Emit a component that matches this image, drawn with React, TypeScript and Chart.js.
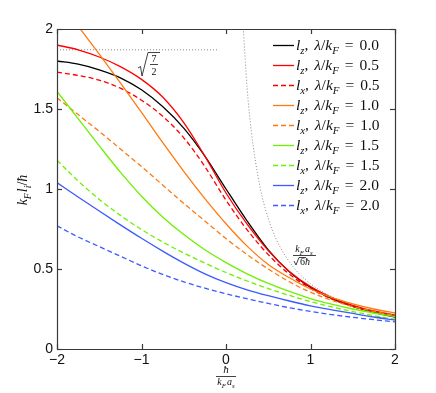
import React, { useEffect, useRef } from 'react';
import { Chart, registerables } from 'chart.js';
Chart.register(...registerables);

// x = hbar / (k_F a_s)
const X = [-2, -1.75, -1.5, -1.25, -1, -0.75, -0.5, -0.25, 0, 0.25, 0.5, 0.75, 1, 1.25, 1.5, 1.75, 2];
const lz00 = [1.80, 1.78, 1.745, 1.695, 1.62, 1.515, 1.38, 1.205, 1.00, 0.80, 0.62, 0.482, 0.385, 0.316, 0.266, 0.229, 0.20];
const lz05 = [1.90, 1.87, 1.825, 1.765, 1.685, 1.575, 1.415, 1.205, 0.975, 0.78, 0.615, 0.485, 0.39, 0.322, 0.273, 0.238, 0.212];
const lx05 = [1.73, 1.71, 1.68, 1.63, 1.555, 1.455, 1.32, 1.14, 0.93, 0.745, 0.59, 0.468, 0.378, 0.313, 0.266, 0.232, 0.207];
const lz10 = [2.19, 2.018, 1.843, 1.663, 1.479, 1.291, 1.11, 0.94, 0.783, 0.643, 0.528, 0.445, 0.375, 0.322, 0.282, 0.25, 0.225];
const lx10 = [1.57, 1.465, 1.36, 1.25, 1.14, 1.025, 0.91, 0.80, 0.69, 0.59, 0.50, 0.42, 0.355, 0.305, 0.265, 0.235, 0.21];
const lz15 = [1.61, 1.44, 1.27, 1.105, 0.955, 0.825, 0.715, 0.62, 0.54, 0.47, 0.41, 0.36, 0.315, 0.28, 0.25, 0.225, 0.203];
const lx15 = [1.18, 1.05, 0.935, 0.835, 0.747, 0.669, 0.60, 0.537, 0.478, 0.425, 0.378, 0.335, 0.296, 0.263, 0.234, 0.208, 0.186];
const lz20 = [1.04, 0.95, 0.862, 0.776, 0.692, 0.612, 0.537, 0.47, 0.415, 0.37, 0.333, 0.3, 0.27, 0.245, 0.222, 0.2, 0.181];
const lx20 = [0.77, 0.70, 0.64, 0.58, 0.52, 0.466, 0.42, 0.38, 0.345, 0.314, 0.285, 0.258, 0.235, 0.215, 0.198, 0.183, 0.17];

// reference lines
const plateauX = [-2, -0.1];
const plateauY = [1.87, 1.87]; // sqrt(7/2)
const asymX = [0.2, 0.25, 0.3, 0.4, 0.5, 0.6, 0.8, 1, 1.25, 1.5, 1.75, 2];
const asymY = [2.04, 1.63, 1.36, 1.02, 0.816, 0.68, 0.51, 0.408, 0.327, 0.272, 0.233, 0.204];

const xTicks = [-2, -1, 0, 1, 2];
const yTicks = [0, 0.5, 1, 1.5, 2];

const seriesComp = ['z', 'z', 'x', 'z', 'x', 'z', 'x', 'z', 'x'];
const seriesLam = ['0.0', '0.5', '0.5', '1.0', '1.0', '1.5', '1.5', '2.0', '2.0'];
const seriesData = [lz00, lz05, lx05, lz10, lx10, lz15, lx15, lz20, lx20];
const seriesColor = ['#000000', '#ff0000', '#ff0000', '#ff7a10', '#ff7a10', '#6ef000', '#6ef000', '#3c5aff', '#3c5aff'];

const SERIF = '"Liberation Serif", "DejaVu Serif", serif';
const SANS = '"Liberation Sans", Arial, sans-serif';

type Seg = { t: string; it?: boolean; sub?: boolean; sp?: number };

function drawRich(ctx: CanvasRenderingContext2D, segs: Seg[], x: number, y: number, size: number, align: 'left' | 'center' = 'left') {
  let w = 0;
  const parts = segs.map((s) => {
    const fs = s.sub ? size * 0.7 : size;
    const font = `${s.it ? 'italic ' : ''}${fs}px ${SERIF}`;
    ctx.font = font;
    const mw = ctx.measureText(s.t).width;
    w += mw + (s.sp || 0);
    return { s, font, mw, dy: s.sub ? size * 0.25 : 0 };
  });
  let cx = align === 'center' ? x - w / 2 : x;
  ctx.textAlign = 'left';
  ctx.textBaseline = 'alphabetic';
  for (const p of parts) {
    ctx.font = p.font;
    ctx.fillText(p.s.t, cx, y + p.dy);
    cx += p.mw + (p.s.sp || 0);
  }
  return w;
}

function seg(ctx: CanvasRenderingContext2D, x1: number, y1: number, x2: number, y2: number) {
  ctx.beginPath();
  ctx.moveTo(x1, y1);
  ctx.lineTo(x2, y2);
  ctx.stroke();
}

const decorPlugin = {
  id: 'decor',
  afterDraw(chart: any) {
    const ctx: CanvasRenderingContext2D = chart.ctx;
    const xs = chart.scales.x;
    const ys = chart.scales.y;
    ctx.save();
    // legend
    for (let i = 0; i < seriesData.length; i++) {
      const y = 45 + 20 * i;
      ctx.strokeStyle = seriesColor[i];
      ctx.lineWidth = 1.3;
      ctx.setLineDash(seriesComp[i] === 'x' ? [5, 3] : []);
      seg(ctx, 273, y + 0.5, 294, y + 0.5);
      ctx.setLineDash([]);
      ctx.fillStyle = '#111';
      drawRich(ctx, [
        { t: 'l', it: true },
        { t: seriesComp[i], it: true, sub: true },
        { t: ', ', sp: 2 },
        { t: 'λ', it: true },
        { t: '/' },
        { t: 'k', it: true },
        { t: 'F', it: true, sub: true, sp: 6 },
        { t: '=', sp: 6 },
        { t: seriesLam[i] },
      ], 296, y + 5, 15.5);
    }

    // frame and inward ticks, same stroke style as legend samples
    const L = xs.getPixelForValue(-2);
    const R = xs.getPixelForValue(2);
    const T = ys.getPixelForValue(2);
    const B = ys.getPixelForValue(0);
    ctx.setLineDash([]);
    ctx.strokeStyle = '#3a3a3a';
    ctx.lineWidth = 1.2;
    seg(ctx, L, T + 0.5, R + 1, T + 0.5);
    seg(ctx, L, B + 0.5, R + 1, B + 0.5);
    seg(ctx, L + 0.5, T, L + 0.5, B + 1);
    seg(ctx, R + 0.5, T, R + 0.5, B + 1);
    const tl = 5;
    for (const v of xTicks) {
      const px = Math.round(xs.getPixelForValue(v)) + 0.5;
      seg(ctx, px, B, px, B - tl);
      seg(ctx, px, T, px, T + tl);
    }
    for (const v of yTicks) {
      const py = Math.round(ys.getPixelForValue(v)) + 0.5;
      seg(ctx, L, py, L + tl, py);
      seg(ctx, R, py, R - tl, py);
    }

    ctx.fillStyle = '#111';
    ctx.strokeStyle = '#111';
    ctx.lineWidth = 0.8;
    // sqrt(7/2) label
    ctx.beginPath();
    ctx.moveTo(138, 68);
    ctx.lineTo(140.5, 66.5);
    ctx.lineTo(142, 76);
    ctx.lineTo(148, 52.5);
    ctx.lineTo(160, 52.5);
    ctx.stroke();
    ctx.font = `10px ${SERIF}`;
    ctx.textAlign = 'center';
    ctx.textBaseline = 'alphabetic';
    ctx.fillText('7', 154, 62);
    ctx.fillText('2', 154, 75);
    seg(ctx, 150, 64.5, 158, 64.5);

    // k_F a_s / (sqrt6 hbar) label
    drawRich(ctx, [{ t: 'k', it: true }, { t: 'F', it: true, sub: true, sp: 1 }, { t: 'a', it: true }, { t: 's', it: true, sub: true }], 304, 252, 10, 'center');
    seg(ctx, 293, 255.5, 316, 255.5);
    ctx.beginPath();
    ctx.moveTo(294, 261);
    ctx.lineTo(296, 265);
    ctx.lineTo(299, 257.5);
    ctx.lineTo(306, 257.5);
    ctx.stroke();
    drawRich(ctx, [{ t: '6' }, { t: 'ħ', it: true }], 300, 265, 10);

    // x-axis title: hbar / (k_F a_s)
    drawRich(ctx, [{ t: 'ħ', it: true }], 226, 373, 11, 'center');
    seg(ctx, 216, 376.5, 236, 376.5);
    drawRich(ctx, [{ t: 'k', it: true }, { t: 'F', it: true, sub: true, sp: 1 }, { t: 'a', it: true }, { t: 's', it: true, sub: true }], 226, 385, 10, 'center');

    // y-axis title
    ctx.save();
    ctx.translate(27, 190);
    ctx.rotate(-Math.PI / 2);
    drawRich(ctx, [
      { t: 'k', it: true },
      { t: 'F', it: true, sub: true, sp: 1 },
      { t: 'l', it: true },
      { t: 'i', it: true, sub: true },
      { t: '/' },
      { t: 'ħ', it: true },
    ], 0, 0, 14, 'center');
    ctx.restore();
    ctx.restore();
  },
};

export default function App() {
  const ref = useRef<HTMLCanvasElement | null>(null);
  useEffect(() => {
    if (!ref.current) return;
    const datasets: any[] = seriesData.map((ys, i) => ({
      label: `l${seriesComp[i]} ${seriesLam[i]}`,
      data: X.map((x, j) => ({ x, y: ys[j] })),
      borderColor: seriesColor[i],
      borderWidth: 1.3,
      borderDash: seriesComp[i] === 'x' ? [5, 3] : [],
      pointRadius: 0,
      fill: false,
      cubicInterpolationMode: 'monotone',
      order: seriesData.length - i,
    }));
    datasets.push({
      label: 'plateau',
      data: plateauX.map((x, j) => ({ x, y: plateauY[j] })),
      borderColor: '#888',
      borderWidth: 1,
      borderDash: [1, 2],
      pointRadius: 0,
      fill: false,
      order: 20,
    });
    datasets.push({
      label: 'asym',
      data: asymX.map((x, j) => ({ x, y: asymY[j] })),
      borderColor: '#888',
      borderWidth: 1,
      borderDash: [1, 2],
      pointRadius: 0,
      fill: false,
      cubicInterpolationMode: 'monotone',
      order: 20,
    });
    const chart = new Chart(ref.current, {
      type: 'line',
      data: { datasets },
      options: {
        animation: false,
        responsive: false,
        devicePixelRatio: 1,
        layout: { padding: { top: 29, right: 41, left: 0, bottom: 0 } },
        plugins: { legend: { display: false }, tooltip: { enabled: false } },
        scales: {
          x: {
            type: 'linear',
            min: -2,
            max: 2,
            grid: { display: false, drawTicks: false, tickLength: 0 },
            border: { display: false },
            afterBuildTicks: (s: any) => { s.ticks = xTicks.map((v) => ({ value: v })); },
            afterFit: (s: any) => { s.height = 44; },
            ticks: {
              padding: 3,
              color: '#111',
              font: { family: SANS, size: 14 },
              maxRotation: 0,
              callback: (v: any) => (v < 0 ? '\u2212' + Math.abs(v) : String(v)),
            },
          },
          y: {
            type: 'linear',
            min: 0,
            max: 2,
            grid: { display: false, drawTicks: false, tickLength: 0 },
            border: { display: false },
            afterBuildTicks: (s: any) => { s.ticks = yTicks.map((v) => ({ value: v })); },
            afterFit: (s: any) => { s.width = 57; },
            ticks: {
              padding: 4,
              color: '#111',
              font: { family: SANS, size: 14 },
              callback: (v: any) => String(v),
            },
          },
        },
      } as any,
      plugins: [decorPlugin],
    });
    return () => chart.destroy();
  }, []);
  return (
    <div style={{ position: 'fixed', left: 0, top: 0, width: 436, height: 393, background: '#fff' }}>
      <canvas ref={ref} width={436} height={393} style={{ width: 436, height: 393 }} />
    </div>
  );
}
